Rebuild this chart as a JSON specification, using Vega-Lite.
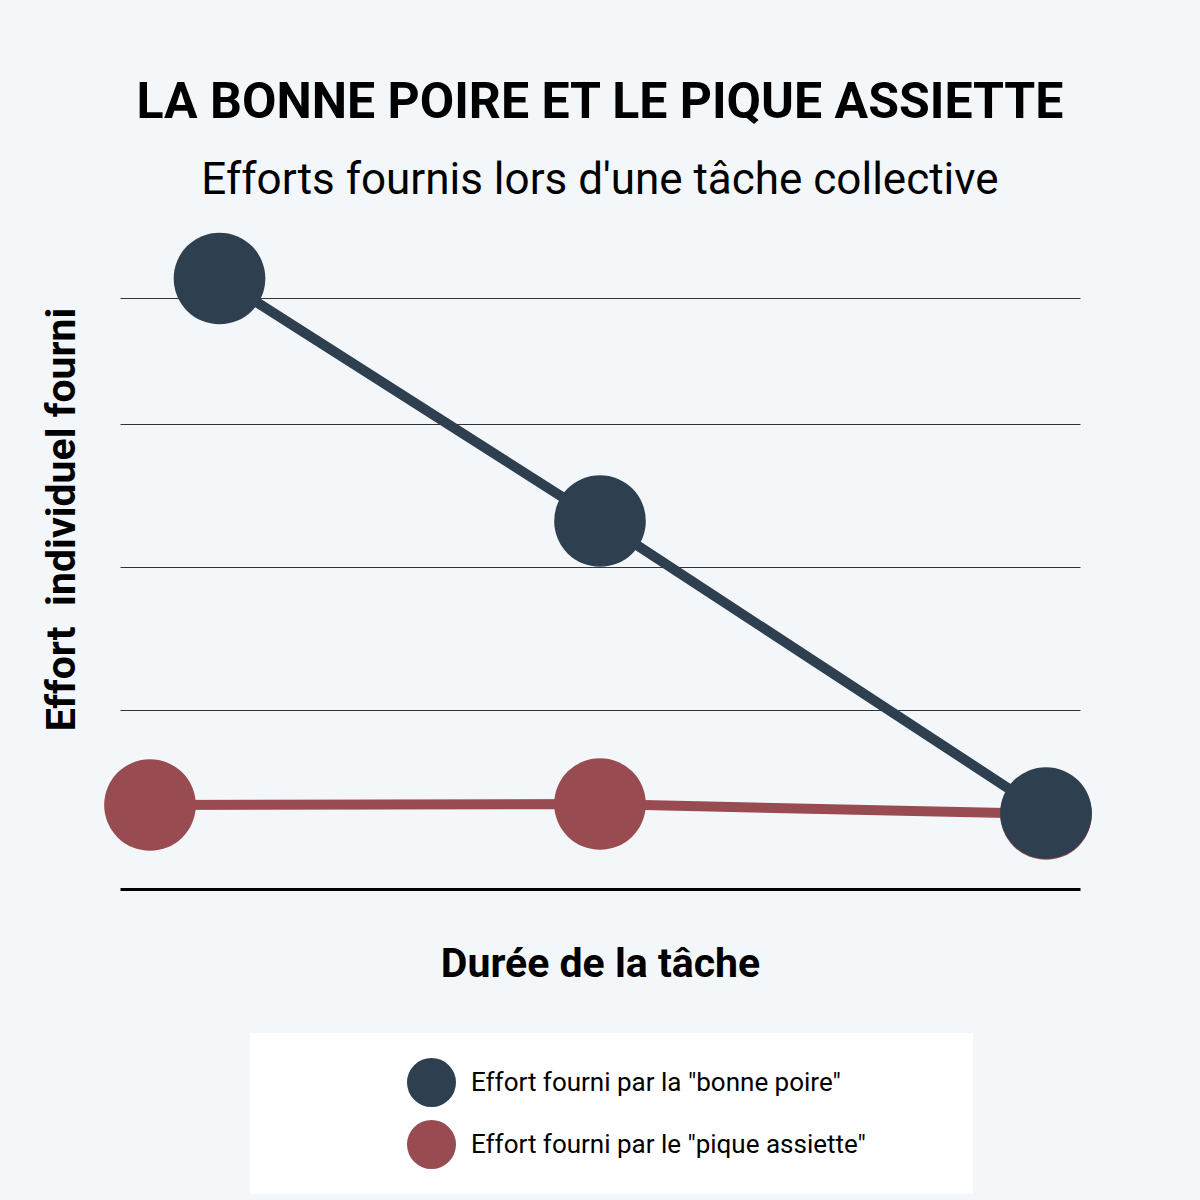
{
  "$schema": "https://vega.github.io/schema/vega-lite/v6.json",
  "width": 960,
  "height": 592,
  "autosize": {"type": "none"},
  "padding": {"left": 120, "top": 297, "right": 120, "bottom": 311},
  "background": "#f4f7fa",
  "config": {
    "view": {"stroke": null},
    "font": "Roboto"
  },
  "title": {
    "text": "LA BONNE POIRE ET LE PIQUE ASSIETTE",
    "subtitle": "Efforts fournis lors d'une tâche collective",
    "anchor": "middle",
    "fontSize": 50,
    "fontWeight": "bold",
    "color": "black",
    "subtitleFontSize": 44,
    "subtitleColor": "black",
    "subtitlePadding": 31,
    "offset": 30
  },
  "data": {
    "values": [
      {"serie": "Effort fourni par le \"pique assiette\"", "duree": 30, "effort": 84},
      {"serie": "Effort fourni par le \"pique assiette\"", "duree": 480, "effort": 85},
      {"serie": "Effort fourni par le \"pique assiette\"", "duree": 926, "effort": 75},
      {"serie": "Effort fourni par la \"bonne poire\"", "duree": 99.5, "effort": 610.5},
      {"serie": "Effort fourni par la \"bonne poire\"", "duree": 480, "effort": 368},
      {"serie": "Effort fourni par la \"bonne poire\"", "duree": 926, "effort": 76}
    ]
  },
  "encoding": {
    "x": {
      "field": "duree",
      "type": "quantitative",
      "scale": {"domain": [0, 960]},
      "axis": {
        "title": "Durée de la tâche",
        "labels": false,
        "ticks": false,
        "grid": false,
        "domainColor": "black",
        "domainWidth": 3,
        "titleFont": "Roboto",
        "titleFontSize": 41,
        "titleFontWeight": "bold",
        "titleColor": "black",
        "titleBaseline": "alphabetic",
        "titleY": 87
      }
    },
    "y": {
      "field": "effort",
      "type": "quantitative",
      "scale": {"domain": [0, 592]},
      "axis": {
        "title": "Effort\u00a0 individuel fourni",
        "values": [179, 322, 465, 591],
        "labels": false,
        "ticks": false,
        "domain": false,
        "gridColor": "#333333",
        "gridWidth": 1,
        "titleFont": "Roboto",
        "titleFontSize": 41,
        "titleFontWeight": "bold",
        "titleColor": "black",
        "titleBaseline": "alphabetic",
        "titleX": -46,
        "titleY": 222
      }
    },
    "color": {
      "field": "serie",
      "type": "nominal",
      "scale": {
        "domain": ["Effort fourni par la \"bonne poire\"", "Effort fourni par le \"pique assiette\""],
        "range": ["#2e3f50", "#984c51"]
      },
      "legend": {
        "orient": "none",
        "legendX": 130,
        "legendY": 736,
        "title": "\u00a0",
        "titleOrient": "right",
        "titleFontSize": 1,
        "titlePadding": 82,
        "fillColor": "white",
        "padding": 25,
        "symbolType": "circle",
        "symbolSize": 2400,
        "symbolStrokeWidth": 0,
        "symbolOpacity": 1,
        "symbolOffset": 132,
        "labelOffset": 15,
        "labelFont": "Roboto",
        "labelFontSize": 26,
        "labelColor": "black",
        "labelLimit": 0,
        "rowPadding": 13
      }
    }
  },
  "layer": [
    {
      "mark": {"type": "line", "strokeWidth": 10},
      "encoding": {"detail": {"field": "serie", "type": "nominal"}}
    },
    {
      "mark": {"type": "circle", "size": 8400, "opacity": 1}
    }
  ]
}
